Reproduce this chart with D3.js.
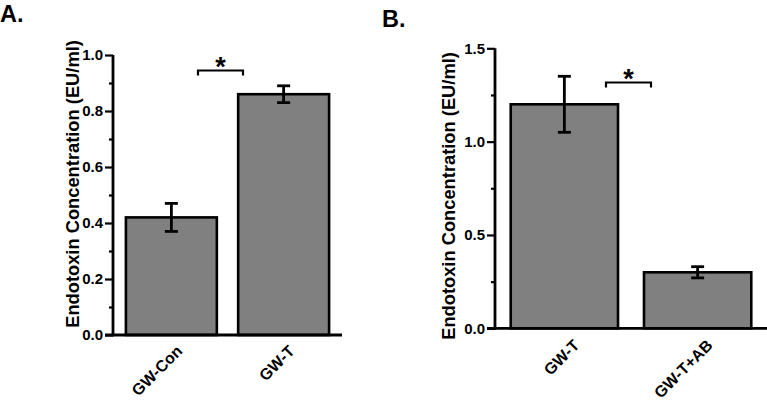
<!DOCTYPE html>
<html><head><meta charset="utf-8">
<script src="https://cdn.jsdelivr.net/npm/d3@7"></script>
<style>body{margin:0;background:#fff}svg{display:block}text{font-family:Arial,"Liberation Sans",sans-serif;font-weight:bold;fill:#000}</style>
</head><body>
<svg id="c" width="767" height="404"></svg>
<script>
const catsA = ["GW-Con", "GW-T"];
const valsA = [0.42, 0.86];
const errsA = [0.05, 0.03];
const ticksA = [0, 0.2, 0.4, 0.6, 0.8, 1.0];
const minorA = [0.1, 0.3, 0.5, 0.7, 0.9];

const catsB = ["GW-T", "GW-T+AB"];
const valsB = [1.2, 0.3];
const errsB = [0.15, 0.03];
const ticksB = [0, 0.5, 1.0, 1.5];
const minorB = [0.25, 0.75, 1.25];

const yTitle = "Endotoxin Concentration (EU/ml)";
const svg = d3.select("#c");

function fit(sel, base, target) {
  sel.style("font-size", base + "px");
  const L = sel.node().getComputedTextLength();
  if (L > 0) sel.style("font-size", (base * target / L) + "px");
}

function panel(o) {
  const g = svg.append("g");
  const y = d3.scaleLinear().domain(o.domain).range([o.y0, o.y1]);
  const x = d3.scaleBand().domain(o.cats).range([o.x0, o.x1]).paddingInner(o.pin).paddingOuter(o.pout);
  g.selectAll("rect.bar").data(o.vals).join("rect")
    .attr("x", (d, i) => x(o.cats[i])).attr("width", x.bandwidth())
    .attr("y", d => y(d)).attr("height", d => y(0) - y(d))
    .attr("fill", "#808080").attr("stroke", "#000").attr("stroke-width", 2.6);
  o.vals.forEach((v, i) => {
    const cx = x(o.cats[i]) + x.bandwidth() / 2;
    const e = o.errs[i];
    g.append("line").attr("x1", cx).attr("x2", cx).attr("y1", y(v + e)).attr("y2", y(v - e)).attr("stroke", "#000").attr("stroke-width", 2.8);
    [v + e, v - e].forEach(t => g.append("line").attr("x1", cx - 6.5).attr("x2", cx + 6.5).attr("y1", y(t)).attr("y2", y(t)).attr("stroke", "#000").attr("stroke-width", 2.8));
  });
  const ax = g.append("g").attr("transform", `translate(${o.x0},0)`)
    .call(d3.axisLeft(y).tickValues(o.ticks).tickSize(8).tickPadding(2).tickFormat(d3.format(".1f")));
  ax.select(".domain").attr("stroke-width", 2.8).attr("d", `M0,${o.y0 + 1.3}V${o.y1}`);
  ax.selectAll(".tick line").attr("stroke-width", 2.2);
  ax.selectAll(".tick text").style("font-family", "Arial,'Liberation Sans',sans-serif")
    .style("font-weight", "bold").style("font-size", "15px");
  const mn = g.append("g").attr("transform", `translate(${o.x0},0)`)
    .call(d3.axisLeft(y).tickValues(o.minor).tickSize(4).tickFormat(""));
  mn.select(".domain").remove();
  mn.selectAll(".tick line").attr("stroke-width", 2.2);
  g.append("line").attr("x1", o.x0 - 8).attr("x2", o.x1).attr("y1", y(0)).attr("y2", y(0)).attr("stroke", "#000").attr("stroke-width", 2.8);
  o.cats.forEach((c, i) => {
    const cx = x(c) + x.bandwidth() / 2 + o.lx;
    g.append("text").attr("transform", `translate(${cx},${y(0) + o.ly}) rotate(-45)`)
      .attr("text-anchor", "end").style("font-size", "16px").text(c);
  });
  const tt = g.append("text").attr("transform", `translate(${o.tx},${o.ty}) rotate(-90)`)
    .attr("text-anchor", "middle").text(yTitle);
  fit(tt, 15, 288);
  const b = o.br;
  g.append("path").attr("d", `M${b.xa},${b.yb + 5}V${b.yb}H${b.xb}V${b.yb + 5}`)
    .attr("fill", "none").attr("stroke", "#000").attr("stroke-width", 2.2);
  g.append("text").attr("x", (b.xa + b.xb) / 2).attr("y", b.yb + 5).attr("text-anchor", "middle")
    .style("font-size", "27px").text("*");
  g.append("text").attr("x", o.lbx).attr("y", o.lby).style("font-size", "23.5px").text(o.letter);
}

panel({domain: [0, 1.0], y0: 335, y1: 55, cats: catsA, vals: valsA, errs: errsA, ticks: ticksA, minor: minorA,
  x0: 113, x1: 342, pin: 0.19, pout: 0.115, lx: 12, ly: 17, tx: 79, ty: 184,
  br: {xa: 198, xb: 243, yb: 70.5}, letter: "A.", lbx: 0, lby: 22});
panel({domain: [0, 1.5], y0: 328.3, y1: 48.3, cats: catsB, vals: valsB, errs: errsB, ticks: ticksB, minor: minorB,
  x0: 495, x1: 767, pin: 0.195, pout: 0.118, lx: 16, ly: 18, tx: 455, ty: 196,
  br: {xa: 606, xb: 651, yb: 82.5}, letter: "B.", lbx: 382, lby: 27});
</script>
</body></html>
